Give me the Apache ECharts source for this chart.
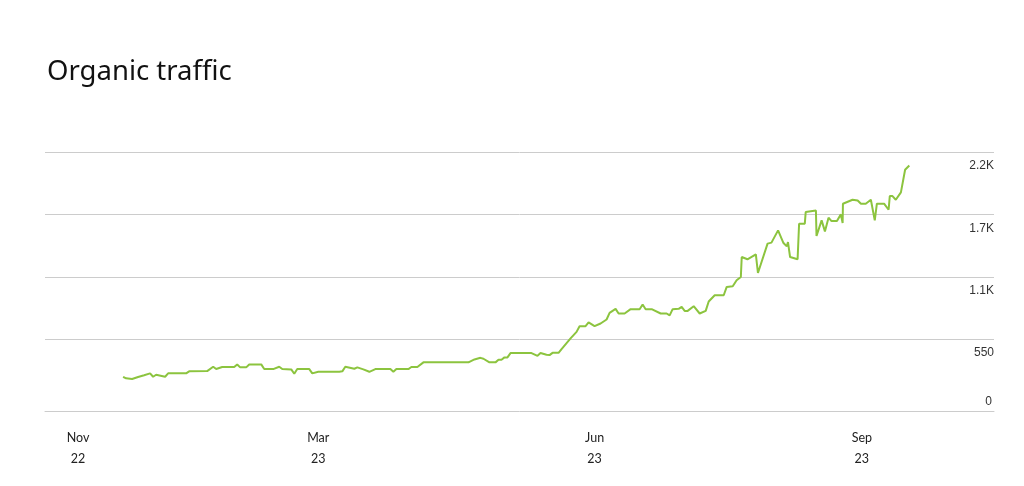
<!DOCTYPE html>
<html>
<head>
<meta charset="utf-8">
<title>Organic traffic</title>
<script src="https://cdn.jsdelivr.net/npm/echarts@6/dist/echarts.min.js"></script>
<style>
    html, body { margin: 0; padding: 0; background: #fff; }
    #trafficChart { width: 1024px; height: 486px; }
</style>
</head>
<body>
<div id="trafficChart"></div>
<script>
// day position along the axis and organic visits
const dayIndex = [
    26, 27, 29, 31, 33, 35, 36, 37, 40, 41,
    47, 48, 54, 56, 57, 59, 63, 64, 65, 67,
    68, 72, 73, 76, 78, 79, 82, 83, 84, 88,
    89, 91, 98, 99, 100, 103, 104, 106, 108, 110,
    115, 116, 117, 121, 122, 124, 126, 141, 143, 145,
    146, 148, 150, 151, 152, 153, 154, 155, 162, 164,
    165, 167, 168, 169, 171, 172, 175, 177, 178, 180,
    181, 183, 185, 187, 188, 190, 191, 193, 195, 198,
    199, 200, 202, 205, 207, 208, 209, 211, 212, 213,
    214, 216, 218, 220, 221, 223, 226, 227, 229,
    230.3, 231.7, 232.0, 233.9, 236.7, 237.4, 240.6, 241.9, 244.1, 245.9,
    247.0, 247.4, 248.1, 250.6, 251.1, 253.0, 253.3, 256.7, 256.9, 258.6,
    259.7, 260.9, 261.9, 263.7, 265.0, 265.6, 265.7, 268.9, 270.6, 271.7,
    273.3, 275.0, 276.3, 277.0, 279.4, 280.9, 281.3, 282.2, 283.3, 285.0,
    285.6, 286.4, 287.8
];
const visits = [
    218, 204, 198, 216, 231, 248, 218, 236, 218, 248,
    248, 266, 268, 306, 286, 304, 304, 327, 301, 301,
    327, 327, 286, 286, 306, 286, 283, 245, 286, 286,
    248, 262, 262, 266, 306, 289, 301, 283, 262, 286,
    286, 262, 286, 286, 304, 304, 345, 345, 371, 385,
    377, 345, 345, 368, 368, 389, 389, 427, 427, 403,
    427, 412, 409, 429, 429, 462, 556, 614, 664, 664,
    697, 664, 688, 723, 781, 817, 776, 776, 814, 814,
    855, 814, 814, 776, 776, 759, 814, 817, 834, 799,
    799, 840, 776, 799, 882, 937, 937, 1010, 1016,
    1069, 1098, 1274, 1254, 1298, 1133, 1392, 1401, 1509, 1397,
    1368, 1406, 1274, 1254, 1568, 1568, 1670, 1685, 1459, 1597,
    1500, 1621, 1591, 1591, 1650, 1573, 1744, 1779, 1773, 1744,
    1744, 1779, 1597, 1744, 1744, 1691, 1811, 1811, 1779, 1844,
    1844, 2043, 2081
];
const monthTicks = [11, 91, 183, 272];
const monthLabels = ['Nov\n22', 'Mar\n23', 'Jun\n23', 'Sep\n23'];
const yTickLabels = {0: '0', 550: '550', 1100: '1.1K', 1650: '1.7K', 2200: '2.2K'};

let trafficChart = echarts.init(document.getElementById('trafficChart'));
let trafficChartOption = {
    animation: false,
    title: {
        text: 'Organic traffic',
        left: 42,
        top: 53,
        textStyle: {
            fontFamily: 'Noto Sans',
            fontWeight: 'normal',
            fontSize: 27.5,
            color: '#111'
        }
    },
    grid: {
        left: 45,
        right: 30,
        top: 152,
        bottom: 84.5
    },
    xAxis: {
        type: 'value',
        min: 0,
        max: 316,
        offset: 10,
        axisLine: {show: true, onZero: false, lineStyle: {color: '#cccccc', width: 1}},
        axisTick: {show: false},
        splitLine: {show: false},
        axisLabel: {
            customValues: monthTicks,
            margin: 16,
            lineHeight: 21,
            fontFamily: 'Lato',
            fontSize: 12.5,
            color: '#222',
            formatter: function (value) {
                let i = monthTicks.indexOf(value);
                return i >= 0 ? monthLabels[i] : '';
            }
        }
    },
    yAxis: [
        {
            type: 'value',
            position: 'right',
            min: 0,
            max: 2200,
            interval: 550,
            axisLine: {show: false},
            axisTick: {show: false},
            splitLine: {
                show: true,
                showMinLine: false,
                lineStyle: {color: '#cccccc', width: 1}
            },
            axisLabel: {
                inside: true,
                margin: 0,
                verticalAlign: 'top',
                padding: [8, 0, 0, 0],
                fontFamily: 'Liberation Sans',
                fontSize: 12,
                color: '#333',
                formatter: function (value) {
                    return value === 0 ? '' : yTickLabels[value];
                }
            }
        },
        {
            type: 'value',
            position: 'right',
            min: 0,
            max: 2200,
            interval: 550,
            axisLine: {show: false},
            axisTick: {show: false},
            splitLine: {show: false},
            axisLabel: {
                inside: true,
                margin: 2,
                verticalAlign: 'middle',
                padding: [0, 0, 12, 0],
                fontFamily: 'Liberation Sans',
                fontSize: 12,
                color: '#333',
                formatter: function (value) {
                    return value === 0 ? '0' : '';
                }
            }
        }
    ],
    series: [
        {
            name: 'Organic traffic',
            type: 'line',
            showSymbol: false,
            symbol: 'none',
            lineStyle: {color: '#8cc43f', width: 2},
            itemStyle: {color: '#8cc43f'},
            data: dayIndex.map(function (d, i) { return [d, visits[i]]; })
        }
    ]
};
trafficChart.setOption(trafficChartOption);
</script>
</body>
</html>
